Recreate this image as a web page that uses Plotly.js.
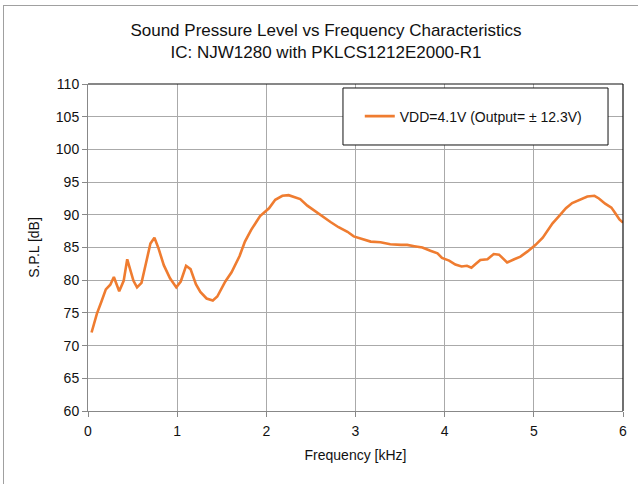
<!DOCTYPE html>
<html>
<head>
<meta charset="utf-8">
<script src="https://cdn.plot.ly/plotly-3.0.1.min.js"></script>
<style>
html,body{margin:0;padding:0;background:#fff;}
#wrap{position:relative;width:638px;height:484px;}
#chart{position:absolute;left:0;top:0;width:638px;height:484px;}
#frame{position:absolute;left:3px;top:5px;width:640px;height:490px;border-left:1px solid #a0a0a0;border-top:1px solid #a0a0a0;pointer-events:none;}
</style>
</head>
<body>
<div id="wrap"><div id="chart"></div><div id="frame"></div></div>
<script>
const freqKHz = [0.04,0.10,0.15,0.20,0.25,0.29,0.35,0.40,0.44,0.51,0.55,0.60,0.65,0.70,0.745,0.79,0.85,0.92,0.99,1.04,1.10,1.15,1.21,1.26,1.33,1.40,1.45,1.54,1.61,1.70,1.76,1.83,1.93,2.03,2.10,2.18,2.25,2.31,2.38,2.46,2.53,2.63,2.72,2.81,2.91,2.98,3.06,3.17,3.28,3.39,3.51,3.58,3.66,3.75,3.84,3.92,3.97,4.05,4.12,4.19,4.25,4.30,4.35,4.40,4.48,4.55,4.61,4.70,4.78,4.85,4.93,5.02,5.10,5.15,5.21,5.29,5.36,5.43,5.53,5.60,5.68,5.73,5.80,5.87,5.91,5.96,6.00];
const splDb = [72.0,74.9,76.7,78.6,79.3,80.5,78.3,79.9,83.2,79.9,78.9,79.6,82.6,85.6,86.5,84.9,82.3,80.3,78.9,79.8,82.2,81.7,79.4,78.2,77.2,76.9,77.5,79.8,81.2,83.7,85.9,87.7,89.8,91.0,92.3,92.9,93.0,92.7,92.4,91.4,90.7,89.7,88.9,88.1,87.4,86.7,86.4,85.9,85.8,85.5,85.4,85.4,85.2,85.0,84.5,84.1,83.4,83.0,82.4,82.1,82.2,81.9,82.5,83.1,83.2,84.0,83.9,82.7,83.2,83.6,84.4,85.4,86.5,87.5,88.7,89.9,91.0,91.8,92.4,92.8,92.9,92.5,91.7,91.1,90.3,89.3,88.8];
const seriesName = "VDD=4.1V (Output= ± 12.3V)";
const titleLines = ["Sound Pressure Level vs Frequency Characteristics","IC: NJW1280 with PKLCS1212E2000-R1"];
const xTitle = "Frequency [kHz]";
const yTitle = "S.P.L [dB]";

const FONT = '"Liberation Sans Narrow", "Liberation Sans", Arial, sans-serif';

const trace = {
  x: freqKHz, y: splDb, type: 'scatter', mode: 'lines', name: seriesName,
  line: {color: '#EF7C30', width: 2.6}
};

const layout = {
  width: 638, height: 484,
  margin: {l: 88, r: 15, t: 84, b: 73},
  paper_bgcolor: '#fff', plot_bgcolor: '#fff',
  font: {family: FONT, size: 13, color: '#111'},
  title: {text: titleLines.join('<br>'), x: 0.511, xref: 'container', xanchor: 'center', yref: 'container', y: 0.925, yanchor: 'top',
          font: {family: FONT, size: 17, color: '#111'}},
  xaxis: {range: [0, 6], dtick: 1, tick0: 0, showgrid: true, gridcolor: '#aaaaaa', gridwidth: 1,
          showline: true, linecolor: '#888', linewidth: 1, ticks: 'outside', ticklen: 5, tickcolor: '#888',
          zeroline: false, tickfont: {size: 14}, ticklabelstandoff: 2,
          title: {text: xTitle, font: {size: 14}, standoff: 12}},
  yaxis: {range: [60, 110], dtick: 5, tick0: 60, showgrid: true, gridcolor: '#aaaaaa', gridwidth: 1,
          showline: true, linecolor: '#888', linewidth: 1, ticks: 'outside', ticklen: 5, tickcolor: '#888',
          zeroline: false, tickfont: {size: 14},
          title: {text: yTitle, font: {size: 14}, standoff: 12}},
  showlegend: true,
  legend: {x: 0.508, xanchor: 'left', y: 0.9006, yanchor: 'middle', bgcolor: 'rgba(0,0,0,0)',
           borderwidth: 0, font: {size: 14}},
  shapes: [
    {type: 'rect', xref: 'paper', yref: 'paper', x0: 0.4766, x1: 0.972, y0: 0.8135, y1: 0.9878,
     fillcolor: '#fff', line: {color: '#111', width: 1}, layer: 'above'},
    {type: 'line', xref: 'paper', yref: 'paper', x0: 0, x1: 1, y0: 1, y1: 1, line: {color: '#111', width: 1.2}, layer: 'above'},
    {type: 'line', xref: 'paper', yref: 'paper', x0: 1, x1: 1, y0: 0, y1: 1, line: {color: '#111', width: 1.2}, layer: 'above'}
  ]
};

Plotly.newPlot('chart', [trace], layout, {displayModeBar: false, staticPlot: true});
</script>
</body>
</html>
